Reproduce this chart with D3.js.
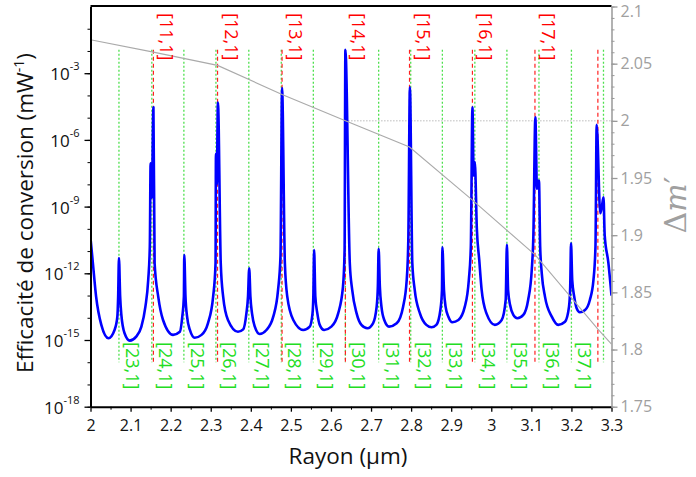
<!DOCTYPE html>
<html><head><meta charset="utf-8">
<script src="https://cdn.jsdelivr.net/npm/d3@7"></script>
<style>body{margin:0;background:#fff} svg{display:block}</style>
</head><body>
<svg id="c" width="696" height="477"></svg>
<script>
// ---------- data ----------
const radius = [
2.000,2.006,2.014,2.027,2.045,2.060,2.067,2.069,2.071,
2.074,2.077,2.085,2.098,2.114,2.127,2.137,2.144,2.148,2.150,2.153,2.157,
2.160,2.169,2.181,2.206,2.223,2.229,2.233,2.234,
2.237,2.241,2.248,2.260,2.277,2.293,2.306,2.312,2.313,2.315,2.318,
2.325,2.331,2.343,2.368,2.381,2.389,2.393,2.396,
2.399,2.403,2.410,2.422,2.439,2.456,2.468,2.474,2.478,
2.485,2.491,2.506,2.531,2.547,2.554,2.556,2.558,
2.561,2.566,2.572,2.583,2.601,2.618,2.630,2.634,2.636,
2.647,2.653,2.664,2.676,2.691,2.705,2.714,2.717,2.719,
2.722,2.726,2.733,2.745,2.764,2.780,2.789,2.793,2.797,
2.803,2.809,2.822,2.838,2.851,2.863,2.873,2.877,2.878,
2.882,2.886,2.893,2.903,2.918,2.934,2.944,2.949,2.953,2.956,2.959,
2.964,2.970,2.976,2.988,3.009,3.026,3.036,3.039,
3.042,3.047,3.055,3.065,3.080,3.092,3.101,3.105,3.110,3.114,3.116,3.119,
3.122,3.126,3.134,3.151,3.167,3.184,3.194,3.197,3.199,
3.202,3.207,3.213,3.221,3.234,3.246,3.255,3.260,3.263,3.272,3.276,3.280,3.283,3.292,3.300];

const efficiency = [
3.89e-11,2.82e-12,8.91e-14,4.79e-15,1.20e-15,2.82e-15,1.12e-14,8.91e-14,4.79e-12,
8.91e-14,1.35e-14,2.0e-15,9.33e-16,1.41e-15,3.98e-15,3.16e-14,5.01e-13,1.58e-11,8.91e-8,2.51e-9,2.95e-5,
2.82e-12,8.91e-14,7.94e-15,1.70e-15,2.34e-15,1.12e-14,8.91e-14,6.61e-12,
8.91e-14,1.12e-14,2.82e-15,1.26e-15,1.70e-15,5.62e-15,8.91e-14,2.82e-12,2.34e-7,1e-8,4.79e-5,
2.82e-12,8.91e-14,7.94e-15,2.34e-15,3.02e-15,1.58e-14,8.91e-14,1.70e-12,
8.91e-14,1.58e-14,3.98e-15,1.86e-15,2.82e-15,1.12e-14,1.78e-13,5.62e-12,2.14e-4,
2.82e-12,8.91e-14,7.94e-15,2.82e-15,3.98e-15,1.58e-14,8.91e-14,1.12e-11,
8.91e-14,1.58e-14,4.79e-15,2.82e-15,3.98e-15,1.58e-14,2.51e-13,1.12e-11,1.12e-2,
2.82e-12,1.78e-13,1.58e-14,4.79e-15,3.39e-15,5.62e-15,3.16e-14,2.51e-13,1.26e-11,
2.51e-13,3.16e-14,7.94e-15,3.98e-15,5.62e-15,3.16e-14,5.01e-13,3.16e-11,2.34e-4,
2.82e-12,1.78e-13,1.58e-14,4.79e-15,3.72e-15,4.79e-15,2.24e-14,1.78e-13,1.48e-11,
1.78e-13,3.16e-14,1.12e-14,6.31e-15,7.94e-15,3.16e-14,5.01e-13,1.58e-11,2.95e-5,2.51e-8,1e-7,
1e-10,3.98e-12,1.78e-13,1.58e-14,4.79e-15,7.94e-15,6.31e-14,1.91e-11,
1.78e-13,3.72e-14,1.35e-14,9.55e-15,1.35e-14,6.31e-14,1.41e-12,4.47e-11,1.05e-5,6.31e-9,1.26e-8,1.48e-8,
1.58e-11,1e-12,8.91e-14,1.12e-14,4.79e-15,6.61e-15,3.16e-14,2.51e-13,2.24e-11,
5.01e-13,8.91e-14,2.69e-14,1.78e-14,2.24e-14,6.31e-14,5.01e-13,1.58e-11,4.79e-6,5.01e-10,1e-9,2.63e-9,5.25e-11,3.16e-12,1e-13];

const redModeR = [2.157,2.317,2.478,2.636,2.796,2.953,3.109,3.266];
const redModeLabels = ["[11,1]","[12,1]","[13,1]","[14,1]","[15,1]","[16,1]","[17,1]"];
const greenModeR = [2.071,2.153,2.233,2.313,2.395,2.476,2.556,2.636,2.719,2.799,2.878,2.959,3.039,3.119,3.200,3.280];
const greenModeLabels = ["[23,1]","[24,1]","[25,1]","[26,1]","[27,1]","[28,1]","[29,1]","[30,1]",
  "[31,1]","[32,1]","[33,1]","[34,1]","[35,1]","[36,1]","[37,1]"];
const modeLineRange = [1e-16, 1.12e-2];

const dmR   = [2.000, 2.157, 2.317, 2.478, 2.636, 2.796, 2.953, 3.110, 3.266, 3.300];
const dmVal = [2.0709,2.0601,2.0485,2.0231,2.0000,1.9771,1.9306,1.8825,1.8179,1.8048];
const dmRefValue = 2.0, dmRefFrom = 2.636;

const xTicks = [2,2.1,2.2,2.3,2.4,2.5,2.6,2.7,2.8,2.9,3,3.1,3.2,3.3];
const yExpLabeled = [-18,-15,-12,-9,-6,-3];
const yRightTicks = [1.75,1.8,1.85,1.9,1.95,2,2.05,2.1];

// ---------- drawing ----------
const svg = d3.select("#c");
const FONT = "'Open Sans', 'DejaVu Sans', sans-serif";
const L = 90.5, R = 611.5, T = 6.5, B = 406.7;
const x = d3.scaleLinear([2, 3.3], [L, R]);
const y = d3.scaleLog([1e-18, 1], [B, T]);
const y2 = d3.scaleLinear([1.75, 2.1], [B, T]);

svg.append("defs").append("clipPath").attr("id","clip")
  .append("rect").attr("x",L).attr("y",T-1).attr("width",R-L).attr("height",B-T+1);

const plot = svg.append("g").attr("clip-path","url(#clip)");

plot.append("line")
  .attr("x1", x(dmRefFrom)).attr("x2", x(3.3))
  .attr("y1", y2(dmRefValue)).attr("y2", y2(dmRefValue))
  .attr("stroke","#999").attr("stroke-width",1).attr("stroke-dasharray","1,2");

plot.selectAll(".gl").data(greenModeR).join("line")
  .attr("x1", d=>x(d)).attr("x2", d=>x(d))
  .attr("y1", y(modeLineRange[1])).attr("y2", y(modeLineRange[0]))
  .attr("stroke","#4ee04e").attr("stroke-width",1.3).attr("stroke-dasharray","2,2");
plot.selectAll(".rl").data(redModeR).join("line")
  .attr("x1", d=>x(d)).attr("x2", d=>x(d))
  .attr("y1", y(modeLineRange[1])).attr("y2", y(modeLineRange[0]))
  .attr("stroke","#ff2020").attr("stroke-width",1.2).attr("stroke-dasharray","4,3");

const pts = radius.map((r,i)=>[r, efficiency[i]]);
plot.append("path").datum(pts)
  .attr("fill","none").attr("stroke","#0000ff").attr("stroke-width",2.6)
  .attr("stroke-linejoin","round")
  .attr("d", d3.line().x(d=>x(d[0])).y(d=>y(d[1])).curve(d3.curveMonotoneX));

plot.append("path").datum(dmR.map((r,i)=>[r, dmVal[i]]))
  .attr("fill","none").attr("stroke","#aaaaaa").attr("stroke-width",1.1)
  .attr("d", d3.line().x(d=>x(d[0])).y(d=>y2(d[1])));

svg.selectAll(".rlab").data(redModeLabels).join("text")
  .attr("transform", (d,i)=>`translate(${x(redModeR[i])+7},13) rotate(90)`)
  .attr("font-family",FONT).attr("font-size",18).attr("fill","#ff0000")
  .text(d=>d);
svg.selectAll(".glab").data(greenModeLabels).join("text")
  .attr("transform", (d,i)=>`translate(${x(greenModeR[i])+7},342) rotate(90)`)
  .attr("font-family",FONT).attr("font-size",18).attr("fill","#22dd22")
  .text(d=>d);

svg.append("line").attr("x1",L).attr("x2",R).attr("y1",T-0.5).attr("y2",T-0.5)
  .attr("stroke","#000").attr("stroke-width",2);

const gx = svg.append("g").attr("transform",`translate(0,${B})`);
gx.call(d3.axisBottom(x).tickValues(d3.range(2.05,3.3,0.1)).tickSize(3).tickFormat(""))
  .call(g=>g.select(".domain").remove());
gx.append("g").call(d3.axisBottom(x).tickValues(xTicks).tickSize(5).tickSizeOuter(0)
    .tickFormat(d=>d3.format("")(+d.toFixed(1))))
  .call(g=>g.select(".domain").attr("stroke-width",2))
  .call(g=>g.selectAll(".tick line").attr("stroke-width",1.3))
  .call(g=>g.selectAll("text").attr("font-family",FONT).attr("font-size",16).attr("fill","#111").attr("dy","1.05em"));

const decades = d3.range(-18,0).map(e=>Math.pow(10,e));
const gy = svg.append("g").attr("transform",`translate(${L},0)`);
gy.call(d3.axisLeft(y).tickValues(decades).tickSize(3).tickFormat("").tickSizeOuter(0))
  .call(g=>g.select(".domain").attr("stroke-width",2));
const gyl = svg.append("g").attr("transform",`translate(${L},0)`);
gyl.call(d3.axisLeft(y).tickValues(yExpLabeled.map(e=>Math.pow(10,e))).tickSize(6).tickFormat(""))
  .call(g=>g.select(".domain").remove())
  .call(g=>g.selectAll(".tick line").attr("stroke-width",1.3));
yExpLabeled.forEach(e=>{
  const t = svg.append("text").attr("x", L-11).attr("y", y(Math.pow(10,e))+7)
    .attr("text-anchor","end").attr("font-family",FONT).attr("fill","#111");
  t.append("tspan").attr("font-size",17).text("10");
  t.append("tspan").attr("font-size",11).attr("dy",-10).text(String(e));
});

const gr = svg.append("g").attr("transform",`translate(${R},0)`);
gr.call(d3.axisRight(y2).tickValues(d3.range(1.75,2.1001,0.01)).tickSize(3).tickFormat("").tickSizeOuter(0))
  .call(g=>g.select(".domain").attr("stroke","#999").attr("stroke-width",1.5))
  .call(g=>g.selectAll(".tick line").attr("stroke","#999"));
const grl = svg.append("g").attr("transform",`translate(${R},0)`);
grl.call(d3.axisRight(y2).tickValues(yRightTicks).tickSize(6).tickPadding(3)
    .tickFormat(d=>d3.format("")(+d.toFixed(2))))
  .call(g=>g.select(".domain").remove())
  .call(g=>g.selectAll(".tick line").attr("stroke","#999").attr("stroke-width",1.3))
  .call(g=>g.selectAll("text").attr("font-family",FONT).attr("font-size",16).attr("fill","#a0a0a0"))
  .call(g=>g.selectAll(".tick").filter(d=>d>=2.1).select("text").attr("y",4.5));

const yt = svg.append("text").attr("transform","translate(33,213) rotate(-90)")
  .attr("text-anchor","middle").attr("font-family",FONT).attr("font-size",22.5).attr("fill","#111");
yt.append("tspan").text("Efficacité de conversion (mW");
yt.append("tspan").attr("font-size",14).attr("dy",-9).text("-1");
yt.append("tspan").attr("dy",9).text(")");

svg.append("text").attr("x",348).attr("y",464).attr("text-anchor","middle")
  .attr("font-family",FONT).attr("font-size",22.5).attr("fill","#111").text("Rayon (µm)");

const rt = svg.append("text").attr("transform","translate(686,205) rotate(-90)")
  .attr("text-anchor","middle").attr("font-family","'DejaVu Serif', 'Liberation Serif', serif")
  .attr("font-size",30).attr("fill","#a0a0a0");
rt.append("tspan").text("Δ");
rt.append("tspan").attr("font-style","italic").text("m");
rt.append("tspan").text("′");
</script>
</body></html>
